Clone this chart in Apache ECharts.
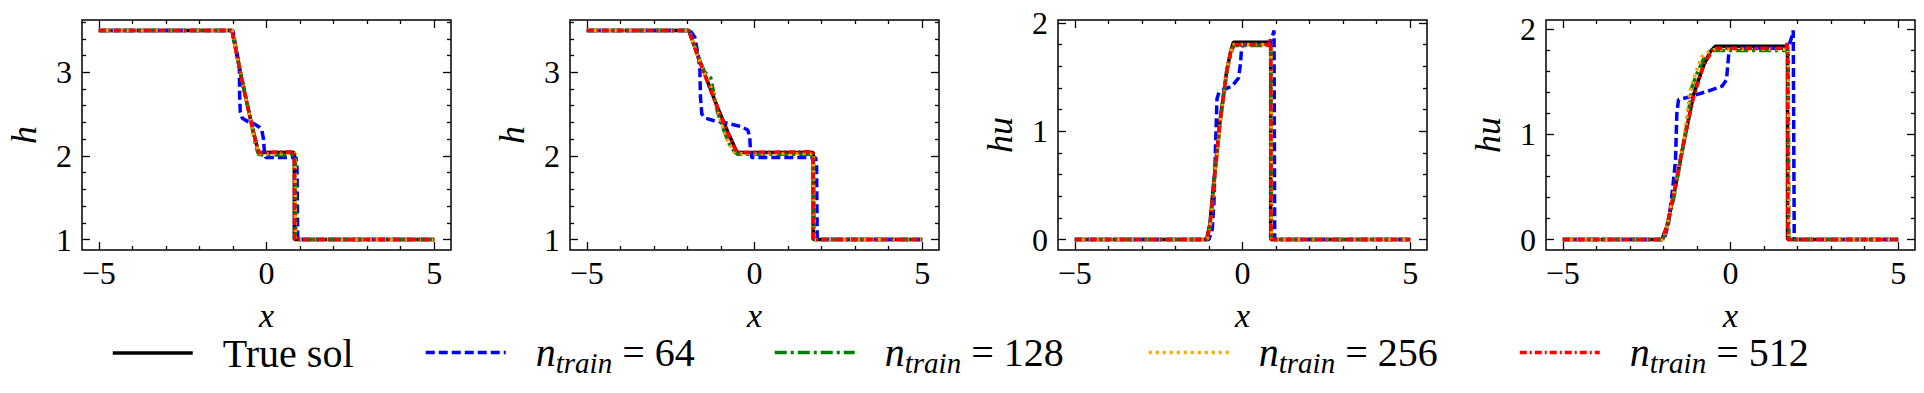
<!DOCTYPE html>
<html>
<head>
<meta charset="utf-8">
<title>dam break</title>
<script src="https://cdn.jsdelivr.net/npm/echarts@6/dist/echarts.min.js"></script>
<style>
    html, body { margin: 0; padding: 0; background: #fff; }
    #main { width: 1924px; height: 393px; }
    /* force the serif face on every svg text node */
    #main text { font-family: "Liberation Serif", serif !important; }
</style>
</head>
<body>
<div id="main"></div>
<script>
/* tick values */
var xTicks = [-5, 0, 5];
var xMinorTicks = [-4, -3, -2, -1, 1, 2, 3, 4];
var hTicks = [1, 2, 3];
var hMinorTicks = [1.2, 1.4, 1.6, 1.8, 2.2, 2.4, 2.6, 2.8, 3.2, 3.4, 3.6];
var huTicks = [0, 1, 2];
var huMinorTicks = [0.2, 0.4, 0.6, 0.8, 1.2, 1.4, 1.6, 1.8];

var seriesNames = ['True sol', 'n_train = 64', 'n_train = 128', 'n_train = 256', 'n_train = 512'];

/* panel 1 : h, early time */
var h1TrueX = [-5, -1.03, -0.9, -0.75, -0.6, -0.45, -0.3, -0.24, 0.83, 0.83, 5];
var h1TrueY = [3.5, 3.5, 3.24, 2.94, 2.66, 2.39, 2.14, 2.04, 2.04, 1.0, 1.0];
var h1N64X = [-5, -1.0, -0.9, -0.84, -0.81, -0.8, -0.78, -0.72, -0.55, -0.35, -0.2, -0.14, -0.09, -0.06, -0.02, 0.88, 0.91, 0.93, 5];
var h1N64Y = [3.5, 3.5, 3.27, 3.15, 3.05, 2.7, 2.52, 2.45, 2.41, 2.38, 2.34, 2.31, 2.2, 2.04, 1.98, 1.98, 1.85, 1.0, 1.0];
var h1N128X = [-5, -1.02, -0.9, -0.75, -0.6, -0.45, -0.32, -0.24, -0.1, 0.84, 0.86, 0.87, 5];
var h1N128Y = [3.5, 3.5, 3.25, 2.96, 2.67, 2.38, 2.12, 2.02, 2.01, 2.01, 1.9, 1.0, 1.0];
var h1N256X = [-5, -1.02, -0.9, -0.75, -0.6, -0.45, -0.3, -0.22, 0.85, 0.86, 5];
var h1N256Y = [3.5, 3.5, 3.23, 2.95, 2.65, 2.37, 2.12, 2.03, 2.03, 1.0, 1.0];
var h1N512X = [-5, -1.03, -0.9, -0.75, -0.6, -0.45, -0.3, -0.23, 0.83, 0.84, 5];
var h1N512Y = [3.5, 3.5, 3.24, 2.94, 2.66, 2.39, 2.14, 2.04, 2.05, 1.0, 1.0];

/* panel 2 : h, later time */
var h2TrueX = [-5, -1.96, -1.7, -1.4, -1.1, -0.8, -0.52, 1.75, 1.75, 5];
var h2TrueY = [3.5, 3.5, 3.21, 2.89, 2.58, 2.29, 2.04, 2.04, 1.0, 1.0];
var h2N64X = [-5, -1.92, -1.78, -1.68, -1.63, -1.61, -1.57, -1.45, -1.2, -0.8, -0.4, -0.2, -0.14, -0.12, -0.08, 1.82, 1.85, 1.87, 5];
var h2N64Y = [3.5, 3.5, 3.42, 3.2, 3.05, 2.7, 2.5, 2.45, 2.42, 2.39, 2.35, 2.31, 2.22, 2.05, 1.98, 1.98, 1.9, 1.0, 1.0];
var h2N128X = [-5, -1.95, -1.7, -1.5, -1.3, -1.2, -1.1, -0.9, -0.75, -0.6, -0.5, 1.76, 1.78, 5];
var h2N128Y = [3.5, 3.5, 3.22, 3.01, 2.93, 2.72, 2.52, 2.29, 2.14, 2.05, 2.02, 2.02, 1.0, 1.0];
var h2N256X = [-5, -1.95, -1.7, -1.45, -1.25, -1.1, -0.95, -0.8, -0.65, -0.52, 1.76, 1.77, 5];
var h2N256Y = [3.5, 3.5, 3.2, 2.95, 2.78, 2.55, 2.35, 2.18, 2.07, 2.03, 2.03, 1.0, 1.0];
var h2N512X = [-5, -1.96, -1.7, -1.4, -1.1, -0.8, -0.53, 1.74, 1.75, 5];
var h2N512Y = [3.5, 3.5, 3.2, 2.88, 2.57, 2.28, 2.04, 2.05, 1.0, 1.0];

/* panel 3 : hu, early time */
var hu1TrueX = [-5, -1.07, -0.97, -0.87, -0.67, -0.47, -0.35, -0.27, 0.84, 0.84, 5];
var hu1TrueY = [0, 0, 0.15, 0.49, 1.10, 1.56, 1.74, 1.82, 1.82, 0, 0];
var hu1N64X = [-5, -1.0, -0.9, -0.85, -0.8, -0.76, -0.7, -0.5, -0.3, -0.12, -0.06, -0.03, 0.0, 0.78, 0.88, 0.94, 0.96, 5];
var hu1N64Y = [0, 0, 0.1, 0.35, 0.9, 1.3, 1.36, 1.39, 1.42, 1.49, 1.62, 1.76, 1.80, 1.80, 1.86, 1.93, 0, 0];
var hu1N128X = [-5, -1.05, -0.95, -0.85, -0.65, -0.45, -0.3, -0.25, 0.84, 0.86, 5];
var hu1N128Y = [0, 0, 0.15, 0.52, 1.12, 1.58, 1.76, 1.79, 1.79, 0, 0];
var hu1N256X = [-5, -1.05, -0.95, -0.85, -0.65, -0.45, -0.32, -0.26, 0.85, 0.86, 5];
var hu1N256Y = [0, 0, 0.16, 0.5, 1.12, 1.6, 1.77, 1.8, 1.8, 0, 0];
var hu1N512X = [-5, -1.06, -0.96, -0.86, -0.66, -0.46, -0.34, -0.26, 0.78, 0.82, 0.84, 0.85, 5];
var hu1N512Y = [0, 0, 0.15, 0.5, 1.11, 1.57, 1.75, 1.8, 1.8, 1.85, 1.8, 0, 0];

/* panel 4 : hu, later time */
var hu2TrueX = [-5, -2.05, -1.9, -1.7, -1.4, -1.1, -0.8, -0.6, -0.45, 1.70, 1.70, 5];
var hu2TrueY = [0, 0, 0.12, 0.41, 0.91, 1.38, 1.66, 1.79, 1.84, 1.84, 0, 0];
var hu2N64X = [-5, -1.98, -1.85, -1.72, -1.64, -1.6, -1.55, -1.2, -0.7, -0.25, -0.12, -0.07, -0.04, 1.70, 1.80, 1.87, 1.9, 5];
var hu2N64Y = [0, 0, 0.15, 0.5, 0.75, 1.2, 1.33, 1.36, 1.41, 1.46, 1.52, 1.7, 1.82, 1.82, 1.9, 1.99, 0, 0];
var hu2N128X = [-5, -2.02, -1.9, -1.7, -1.45, -1.3, -1.15, -1.0, -0.8, -0.55, -0.45, 1.72, 1.74, 5];
var hu2N128Y = [0, 0, 0.1, 0.38, 0.82, 1.1, 1.45, 1.58, 1.72, 1.80, 1.80, 1.80, 0, 0];
var hu2N256X = [-5, -2.0, -1.9, -1.7, -1.4, -1.2, -1.0, -0.85, -0.6, -0.45, 1.72, 1.73, 5];
var hu2N256Y = [0, 0, 0.12, 0.43, 0.92, 1.42, 1.62, 1.74, 1.80, 1.81, 1.81, 0, 0];
var hu2N512X = [-5, -2.04, -1.9, -1.7, -1.4, -1.1, -0.8, -0.5, 1.64, 1.68, 1.70, 1.71, 5];
var hu2N512Y = [0, 0, 0.12, 0.42, 0.92, 1.36, 1.66, 1.82, 1.82, 1.87, 1.82, 0, 0];

/* panel layout */
var panels = [
    { left: 82,   yName: 'h',  yMin: 0.875,  yMax: 3.625,  yTicks: hTicks,  yMinor: hMinorTicks,
      curves: [[h1TrueX, h1TrueY], [h1N64X, h1N64Y], [h1N128X, h1N128Y], [h1N256X, h1N256Y], [h1N512X, h1N512Y]] },
    { left: 570,  yName: 'h',  yMin: 0.875,  yMax: 3.625,  yTicks: hTicks,  yMinor: hMinorTicks,
      curves: [[h2TrueX, h2TrueY], [h2N64X, h2N64Y], [h2N128X, h2N128Y], [h2N256X, h2N256Y], [h2N512X, h2N512Y]] },
    { left: 1058, yName: 'hu', yMin: -0.0965, yMax: 2.0265, yTicks: huTicks, yMinor: huMinorTicks,
      curves: [[hu1TrueX, hu1TrueY], [hu1N64X, hu1N64Y], [hu1N128X, hu1N128Y], [hu1N256X, hu1N256Y], [hu1N512X, hu1N512Y]] },
    { left: 1546, yName: 'hu', yMin: -0.0995, yMax: 2.0895, yTicks: huTicks, yMinor: huMinorTicks,
      curves: [[hu2TrueX, hu2TrueY], [hu2N64X, hu2N64Y], [hu2N128X, hu2N128Y], [hu2N256X, hu2N256Y], [hu2N512X, hu2N512Y]] }
];

var lineColors = ['#000000', '#0000ff', '#008000', '#ffa500', '#ff0000'];
var lineDash = ['solid', [9, 4], [12, 4, 3, 4], [3, 4], [7, 3, 2, 3]];
var legendLeft = [111, 424, 773, 1147, 1518];
var legendTop = [333, 328, 328, 328, 328];
var serif = 'Liberation Serif';

function zip(xs, ys) {
    return xs.map(function (x, i) { return [x, ys[i]]; });
}
function minusFmt(v) {
    return v < 0 ? '\u2212' + (-v) : String(v);
}
/* one axis: main ones carry labels and names, the rest only inner ticks */
function makeAxis(dim, pos, gi, min, max, ticks, len, main, name) {
    var ax = {
        type: 'value', gridIndex: gi, position: pos, min: min, max: max,
        axisLine: { show: false, onZero: false },
        splitLine: { show: false },
        axisTick: { show: true, inside: true, length: len, customValues: ticks,
                    lineStyle: { color: '#000', width: 1.3 } },
        axisLabel: { show: false }
    };
    if (main) {
        ax.axisLabel = {
            show: true, customValues: ticks, formatter: minusFmt,
            fontFamily: serif, fontSize: 32, color: '#000', margin: dim === 'x' ? 7 : 10
        };
        ax.name = name;
        ax.nameLocation = 'middle';
        ax.nameGap = dim === 'x' ? 53 : 40;
        ax.nameTextStyle = {
            fontFamily: serif, fontStyle: 'italic', color: '#000',
            fontSize: dim === 'x' ? 34 : 36, lineHeight: dim === 'x' ? 24 : 36
        };
    }
    return ax;
}
function legendFmt(name) {
    if (name === 'True sol') return name;
    return '{n|n}{s|train}{e| = ' + name.split('= ')[1] + '}';
}

var grids = [], xAxes = [], yAxes = [], series = [];
panels.forEach(function (p, gi) {
    grids.push({ left: p.left, top: 20, width: 369, height: 230, show: true,
                 borderColor: '#000', borderWidth: 1.5, backgroundColor: 'transparent', outerBoundsMode: 'none' });
    xAxes.push(makeAxis('x', 'bottom', gi, -5.5, 5.5, xTicks, 8, true, 'x'));
    xAxes.push(makeAxis('x', 'bottom', gi, -5.5, 5.5, xMinorTicks, 4, false));
    xAxes.push(makeAxis('x', 'top', gi, -5.5, 5.5, xTicks, 8, false));
    xAxes.push(makeAxis('x', 'top', gi, -5.5, 5.5, xMinorTicks, 4, false));
    yAxes.push(makeAxis('y', 'left', gi, p.yMin, p.yMax, p.yTicks, 8, true, p.yName));
    yAxes.push(makeAxis('y', 'left', gi, p.yMin, p.yMax, p.yMinor, 4, false));
    yAxes.push(makeAxis('y', 'right', gi, p.yMin, p.yMax, p.yTicks, 8, false));
    yAxes.push(makeAxis('y', 'right', gi, p.yMin, p.yMax, p.yMinor, 4, false));
    p.curves.forEach(function (c, si) {
        series.push({
            type: 'line', name: seriesNames[si],
            xAxisIndex: gi * 4, yAxisIndex: gi * 4,
            data: zip(c[0], c[1]),
            symbol: 'none', showSymbol: false, smooth: false,
            itemStyle: { color: lineColors[si] },
            lineStyle: { color: lineColors[si], width: 3.5, type: lineDash[si] },
            emphasis: { disabled: true }
        });
    });
});

/* one legend per entry so each can sit where the original has it */
var legends = seriesNames.map(function (n, i) {
    return {
        data: [n], left: legendLeft[i], top: legendTop[i], padding: 0,
        itemWidth: 80, itemHeight: 14, selectedMode: false,
        itemStyle: { opacity: 0 },
        lineStyle: { color: lineColors[i], width: 3.5, type: lineDash[i] },
        formatter: legendFmt,
        textStyle: {
            fontFamily: serif, fontSize: 40, lineHeight: 36, color: '#000', padding: [0, 0, 0, 25],
            rich: {
                n: { fontFamily: serif, fontStyle: 'italic', fontSize: 40, lineHeight: 36, color: '#000' },
                s: { fontFamily: serif, fontStyle: 'italic', fontSize: 29, lineHeight: 26, color: '#000', padding: [20, 0, 0, 0] },
                e: { fontFamily: serif, fontSize: 40, lineHeight: 36, color: '#000' }
            }
        }
    };
});

var chart = echarts.init(document.getElementById('main'), null, { renderer: 'svg' });
chart.setOption({
    backgroundColor: '#fff',
    animation: false,
    textStyle: { fontFamily: serif },
    grid: grids,
    xAxis: xAxes,
    yAxis: yAxes,
    legend: legends,
    series: series
});
</script>
</body>
</html>
